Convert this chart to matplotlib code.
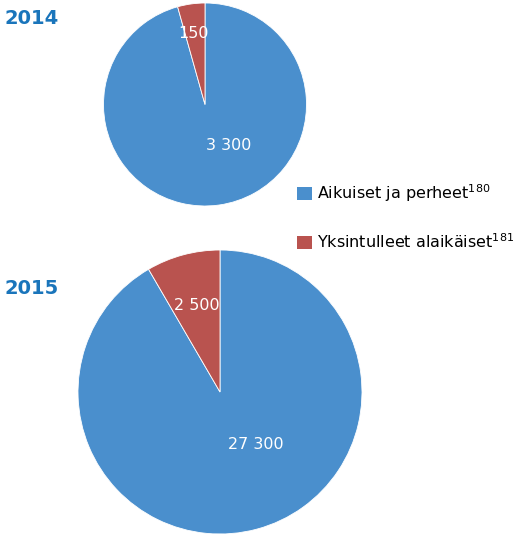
import matplotlib
matplotlib.use('Agg')
import matplotlib.pyplot as plt
from matplotlib.patches import Patch

# Data
years = ['2014', '2015']
categories = ['Aikuiset ja perheet', 'Yksintulleet alaikäiset']
footnotes = ['180', '181']
adults = [3300, 27300]
minors = [150, 2500]
value_labels = [['3 300', '150'], ['27 300', '2 500']]

blue = '#4a8fcd'
red = '#b9534f'
title_col = '#1a75bb'

plt.rcParams['font.family'] = ['DejaVu Sans']
plt.rcParams['mathtext.default'] = 'regular'

W, H = 516, 534
fig = plt.figure(figsize=(W / 100, H / 100), dpi=100)

# pie centres and radii in pixels
pies = [(205, 104.5, 101.5), (220, 392, 142)]
label_pos = [[(0.23, -0.40), (-0.11, 0.70)], [(0.25, -0.37), (-0.16, 0.61)]]
title_pos = [(5, 18), (5, 288)]

for i, (cx, cy, r) in enumerate(pies):
    ax = fig.add_axes([(cx - r) / W, 1 - (cy + r) / H, 2 * r / W, 2 * r / H])
    ax.pie([adults[i], minors[i]], colors=[blue, red], startangle=90,
           counterclock=False, radius=1,
           wedgeprops=dict(edgecolor='white', linewidth=0.6))
    ax.set_xlim(-1, 1)
    ax.set_ylim(-1, 1)
    ax.set_aspect('equal')
    for (lx, ly), txt in zip(label_pos[i], value_labels[i]):
        ax.text(lx, ly, txt, color='white', fontsize=11.5, ha='center', va='center')
    tx, ty = title_pos[i]
    fig.text(tx / W, 1 - ty / H, years[i], color=title_col, fontsize=14,
             fontweight='bold', ha='left', va='center')

handles = [Patch(facecolor=blue), Patch(facecolor=red)]
labels = [f'{c}$^{{{n}}}$' for c, n in zip(categories, footnotes)]
fig.legend(handles, labels, loc='upper left', bbox_to_anchor=(291 / W, 1 - 176 / H),
           frameon=False, fontsize=11.5, handlelength=0.9, handleheight=0.9,
           handletextpad=0.3, labelspacing=1.75, borderaxespad=0)

fig.savefig('out.png', dpi=100)
